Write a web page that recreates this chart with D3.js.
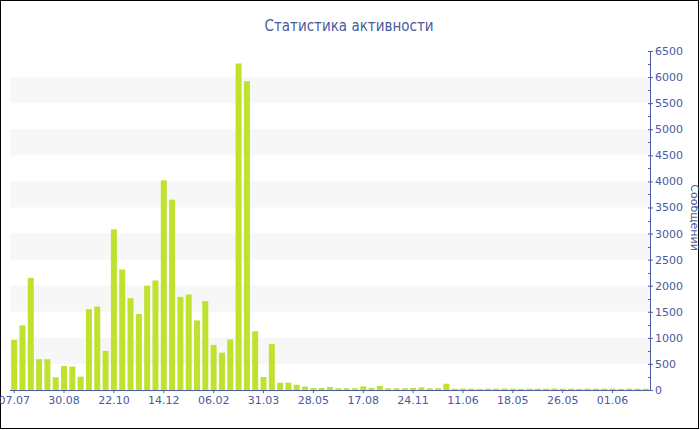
<!DOCTYPE html>
<html>
<head>
<meta charset="utf-8">
<script src="https://cdn.jsdelivr.net/npm/d3@7"></script>
<style>
  html, body { margin: 0; padding: 0; background: #fff; }
  svg { display: block; font-family: "DejaVu Sans", Verdana, sans-serif; }
</style>
</head>
<body>
<svg id="chart" width="700" height="430"></svg>
<script>
const title = "Статистика активности";
const yTitle = "Сообщений";
const tickLabels = ["07.07", "30.08", "22.10", "14.12", "06.02", "31.03", "28.05", "17.08", "24.11", "11.06", "18.05", "26.05", "01.06"];
const values = [
  960, 1240, 2150, 590, 590, 245, 460, 450, 255, 1550,
  1600, 750, 3080, 2310, 1760, 1460, 2000, 2100, 4020, 3650,
  1785, 1830, 1335, 1705, 865, 715, 970, 6260, 5920, 1125,
  250, 880, 140, 140, 100, 65, 38, 38, 58, 32,
  32, 32, 70, 38, 77, 32, 32, 32, 38, 51,
  32, 32, 120, 25, 28, 25, 22, 25, 25, 28,
  25, 22, 25, 25, 25, 28, 25, 25, 22, 25,
  25, 25, 25, 22, 25, 25, 25
];
const labelEvery = 6;
const yMax = 6500;
const yStep = 500;

const mLeft = 10, mRight = 650, mTop = 51, mBottom = 390;
const axisColor = "#4d5ca6";
const textColor = "#4a5a9e";

const svg = d3.select("#chart");

// border
svg.append("rect").attr("x", 0.5).attr("y", 0.5).attr("width", 698).attr("height", 428)
  .attr("fill", "#fff").attr("stroke", "#000").attr("stroke-width", 1);

const categories = values.map((_, i) => i);
const x = d3.scaleBand().domain(categories).range([mLeft, mRight])
  .paddingInner(0.28).paddingOuter(0.14);
const y = d3.scaleLinear().domain([0, yMax]).range([mBottom, mTop]);

// alternating bands
const bandStarts = d3.range(yStep, yMax, yStep * 2);
svg.append("g").selectAll("rect").data(bandStarts).join("rect")
  .attr("x", mLeft).attr("width", mRight - mLeft)
  .attr("y", d => y(d + yStep)).attr("height", d => y(d) - y(d + yStep))
  .attr("fill", "#f7f7f7");

// bars
svg.append("g").selectAll("rect").data(values).join("rect")
  .attr("x", (d, i) => x(i)).attr("width", x.bandwidth())
  .attr("y", d => y(d)).attr("height", d => y(0) - y(d))
  .attr("fill", "#bee22e");

// x axis
const xTicks = categories.filter(i => i % labelEvery === 0 && i / labelEvery < tickLabels.length);
const xAxis = d3.axisBottom(x).tickValues(xTicks)
  .tickFormat(i => tickLabels[i / labelEvery]).tickSize(3).tickSizeOuter(0);
const gx = svg.append("g").attr("transform", `translate(0,${mBottom})`).call(xAxis);
gx.select(".domain").attr("stroke", axisColor).attr("d", `M${mLeft},0.5H${mRight}`);
gx.selectAll(".tick line").attr("stroke", axisColor);
gx.selectAll(".tick text").attr("fill", textColor).attr("font-size", 11)
  .attr("font-family", "DejaVu Sans").attr("y", 6);

// y axis (right)
const yAxis = d3.axisRight(y).tickValues(d3.range(0, yMax + 1, yStep)).tickSize(3).tickSizeOuter(0)
  .tickFormat(d3.format("d"));
const gy = svg.append("g").attr("transform", `translate(${mRight},0)`).call(yAxis);
gy.select(".domain").attr("stroke", axisColor);
gy.selectAll(".tick line").attr("stroke", axisColor).attr("x1", -2);
gy.selectAll(".tick text").attr("fill", textColor).attr("font-size", 11)
  .attr("font-family", "DejaVu Sans").attr("x", 5);
// minor ticks
gy.append("g").selectAll("line").data(d3.range(yStep / 2, yMax, yStep)).join("line")
  .attr("x1", -2).attr("x2", 0)
  .attr("y1", d => Math.round(y(d)) + 0.5).attr("y2", d => Math.round(y(d)) + 0.5)
  .attr("stroke", axisColor);

// y title
svg.append("text")
  .attr("transform", `translate(691,${(mTop + mBottom) / 2 - 3}) rotate(90)`)
  .attr("text-anchor", "middle").attr("fill", textColor)
  .attr("font-size", 11).text(yTitle);

// title
svg.append("text").attr("x", 349).attr("y", 31).attr("text-anchor", "middle")
  .attr("fill", textColor).attr("font-size", 15)
  .attr("font-family", "'DejaVu Sans Condensed', 'DejaVu Sans'")
  .attr("font-stretch", "condensed").text(title);
</script>
</body>
</html>
